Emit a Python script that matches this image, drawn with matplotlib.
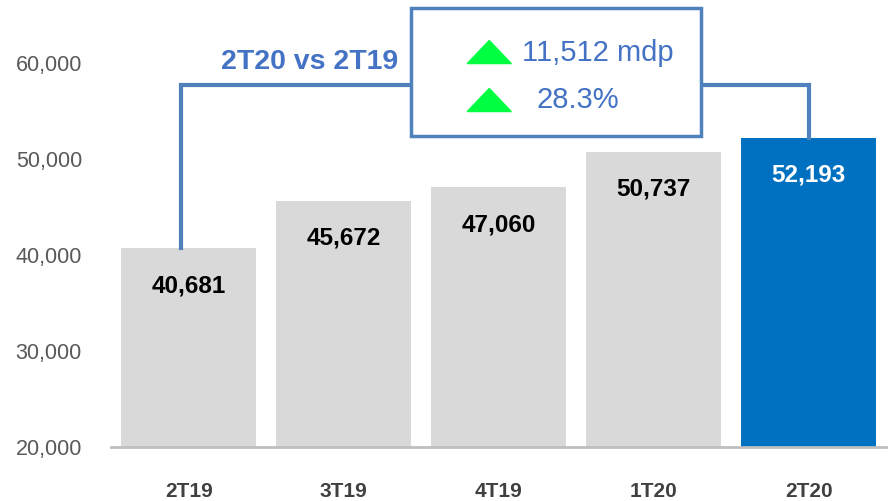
import matplotlib.pyplot as plt
from matplotlib.patches import Polygon, Rectangle

plt.rcParams['font.family'] = ['Liberation Sans', 'DejaVu Sans']

quarters = ["2T19", "3T19", "4T19", "1T20", "2T20"]
values = [40681, 45672, 47060, 50737, 52193]
bar_colors = ["#D9D9D9", "#D9D9D9", "#D9D9D9", "#D9D9D9", "#0070C0"]
label_colors = ["black", "black", "black", "black", "white"]
yticks = [20000, 30000, 40000, 50000, 60000]
change_abs = "11,512 mdp"
change_pct = "28.3%"
compare_title = "2T20 vs 2T19"

line_blue = "#4F81BD"
text_blue = "#4472C4"
tri_green = "#00FF40"

fig = plt.figure(figsize=(8.89, 5.01), dpi=100)
ax = fig.add_axes([0.125, 0.108, 0.872, 0.881])

x = range(len(quarters))
ax.bar(x, values, width=0.87, bottom=0, color=bar_colors, zorder=2)
ax.set_ylim(20000, 66000)
ax.set_xlim(-0.5, 4.5)

for i, v in enumerate(values):
    ax.annotate(f"{v:,}", (i, v), xytext=(0, -27), textcoords="offset points",
                ha="center", va="center", fontsize=17.5, fontweight="bold",
                color=label_colors[i], zorder=5)

ax.set_yticks(yticks)
ax.set_yticklabels([f"{t:,}" for t in yticks], fontsize=15.5, color="#595959")
ax.set_xticks(list(x))
ax.set_xticklabels(quarters, fontsize=15, fontweight="bold", color="#404040")
ax.tick_params(axis="both", length=0)
ax.tick_params(axis="y", pad=21)
ax.tick_params(axis="x", pad=25)
for s in ["top", "right", "left"]:
    ax.spines[s].set_visible(False)
ax.spines["bottom"].set_color("#BFBFBF")
ax.spines["bottom"].set_linewidth(2)
ax.spines["bottom"].set_zorder(3)

# comparison bracket
top_y = 57700
ax.plot([-0.05, -0.05, 4, 4], [values[0], top_y, top_y, values[4]],
        color=line_blue, lw=3, zorder=3, solid_joinstyle="miter", clip_on=False)
ax.text(0.777, 60100, compare_title, ha="center", va="center", fontsize=20.5,
        fontweight="bold", color=text_blue, zorder=4)

# box with changes
box = Rectangle((1.435, 52400), 3.306 - 1.435, 65700 - 52400, facecolor="white",
                edgecolor=line_blue, lw=2.5, zorder=4, clip_on=False)
ax.add_patch(box)

for yc in [61150, 56150]:
    tri = Polygon([[1.797, yc - 1200], [2.081, yc - 1200], [1.939, yc + 1200]],
                  closed=True, color=tri_green, zorder=5)
    ax.add_patch(tri)
ax.text(2.152, 61050, change_abs, ha="left", va="center", fontsize=21,
        color=text_blue, zorder=5)
ax.text(2.242, 56150, change_pct, ha="left", va="center", fontsize=21,
        color=text_blue, zorder=5)

fig.savefig("out.png", dpi=100)
